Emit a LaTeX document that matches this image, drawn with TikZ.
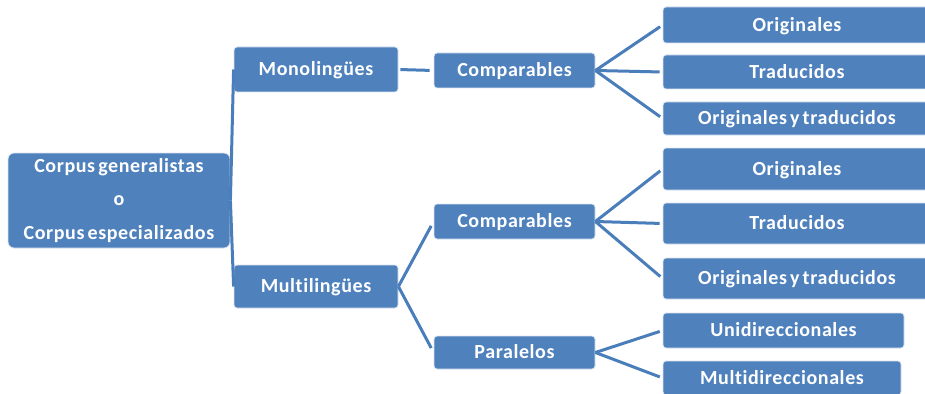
\documentclass[tikz,border=0pt]{standalone}
\usepackage{fontspec}
\setmainfont{Carlito}[LetterSpace=3, WordSpace=0.6, Ligatures=NoCommon]
\definecolor{boxblue}{HTML}{4F81BD}
\definecolor{lineblue}{HTML}{4A7EBB}
\definecolor{boxedge}{HTML}{DCE6F2}
\begin{document}
\begin{tikzpicture}[x=1pt,y=-1pt,
  box/.style={rectangle, fill=boxblue, draw=boxedge, line width=0.8pt,
    rounded corners=3pt, inner sep=0pt, text=white,
    text height=16.9pt, text depth=4pt,
    font=\fontsize{20}{24}\selectfont\bfseries, align=center},
  link/.style={draw=lineblue, line width=3pt, shorten >=3pt}]
\useasboundingbox (0,0) rectangle (925,393);
\fill[white] (0,0) rectangle (925,393);
\clip (0,0) rectangle (925,393);

% root and first level
\node[box, rounded corners=6pt, minimum width=222pt, minimum height=95pt,
  text height=, text depth=,
  font=\fontsize{20}{33.5}\selectfont\bfseries] (root) at (119,200.5)
  {Corpus generalistas\\o\\Corpus especializados};
\node[box, minimum width=164pt, minimum height=45pt] (mono) at (316,69.5) {Monolingües};
\node[box, minimum width=164pt, minimum height=43pt] (multi) at (316,286.5) {Multilingües};

% second level
\node[box, minimum width=161pt, minimum height=35pt] (comp1) at (514.5,70.5) {Comparables};
\node[box, minimum width=161pt, minimum height=35pt] (comp2) at (514.5,221.5) {Comparables};
\node[box, minimum width=161pt, minimum height=33pt] (para) at (514.5,352.5) {Paralelos};

% leaves
\node[box, minimum width=268pt, minimum height=36pt] (orig1) at (797,25) {Originales};
\node[box, minimum width=268pt, minimum height=34pt] (trad1) at (797,72) {Traducidos};
\node[box, minimum width=268pt, minimum height=33pt] (ot1) at (797,118.5) {Originales y traducidos};
\node[box, minimum width=268pt, minimum height=42pt] (orig2) at (797,169) {Originales};
\node[box, minimum width=268pt, minimum height=41pt] (trad2) at (797,223.5) {Traducidos};
\node[box, minimum width=268pt, minimum height=41pt] (ot2) at (797,278.5) {Originales y traducidos};
\node[box, minimum width=241pt, minimum height=35pt] (uni) at (783.5,330.5) {Unidireccionales};
\node[box, minimum width=238pt, minimum height=34pt] (multid) at (782,378) {Multidireccionales};

% connectors
\draw[link, shorten >=0pt] (root.east) -- (mono.west);
\draw[link, shorten >=0pt] (root.east) -- (multi.west);
\draw[link, shorten <=2pt, shorten >=4pt] (mono.east) -- (comp1.west);
\draw[link, shorten >=5pt] (multi.east) -- (comp2.west);
\draw[link, shorten >=5pt] (multi.east) -- (para.west);
\draw[link] (comp1.east) -- (orig1.west);
\draw[link] (comp1.east) -- (trad1.west);
\draw[link] (comp1.east) -- (ot1.west);
\draw[link] (comp2.east) -- (orig2.west);
\draw[link] (comp2.east) -- (trad2.west);
\draw[link] (comp2.east) -- (ot2.west);
\draw[link] (para.east) -- (uni.west);
\draw[link] (para.east) -- (multid.west);
\end{tikzpicture}
\end{document}
